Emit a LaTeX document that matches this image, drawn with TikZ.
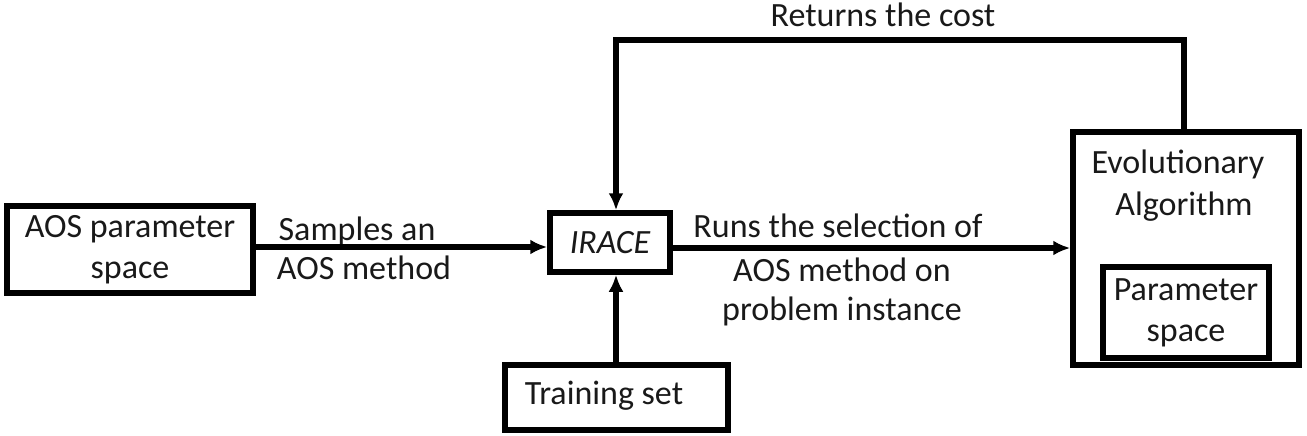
\documentclass[tikz,border=0pt]{standalone}
\usepackage{fontspec}
\setmainfont{Carlito}
\usetikzlibrary{arrows.meta}
\tikzset{
  box/.style={draw, line width=5.5pt, inner sep=0pt, fill=white},
  txt/.style={font=\fontsize{34}{41}\selectfont, inner sep=0pt, text=black!90},
  conn/.style={line width=5.5pt, -{Latex[length=17pt,width=15pt]}},
}
\begin{document}
\begin{tikzpicture}[x=1pt,y=-1pt]
\useasboundingbox (0,0) rectangle (1307,436);
% boxes
\node[box, minimum width=246pt, minimum height=87pt, align=center, txt] (aos) at (130,249.5) {AOS parameter\\space};
\node[box, minimum width=120pt, minimum height=59pt, txt] (irace) at (610,242.5) {\itshape IRACE};
\node[box, minimum width=223pt, minimum height=65pt] (train) at (616.5,397.5) {};
\node[txt, anchor=base] (traint) at (604,404) {Training set};
\node[box, minimum width=226pt, minimum height=233pt] (ea) at (1186,248.5) {};
\node[txt, anchor=base] (eat1) at (1178,173) {Evolutionary};
\node[txt, anchor=base] (eat2) at (1184,215) {Algorithm};
\node[box, minimum width=166pt, minimum height=91pt, txt, align=center] (ps) at (1186,312.5) {Parameter\\space};
% connector labels
\node[txt, anchor=base] (l1) at (357,240) {Samples an};
\node[txt, anchor=base] (l2) at (364,279) {AOS method};
\node[txt, anchor=base] (r1) at (838,237) {Runs the selection of};
\node[txt, anchor=base] (r2) at (842,281) {AOS method on};
\node[txt, anchor=base] (r3) at (842,320) {problem instance};
\node[txt, anchor=base] (rc) at (883,27) {Returns the cost};
% connectors
\draw[conn] (aos.east |- 0,247) -- (irace.west |- 0,247);
\draw[conn] (irace.east |- 0,248) -- (ea.west |- 0,248);
\draw[conn] (train.north -| 616,0) -- (irace.south -| 616,0);
\coordinate (c1) at (1184,40);
\coordinate (c2) at (616,40);
\draw[conn] (ea.north -| 1184,0) -- (c1) -- (c2) -- (irace.north -| 616,0);
\end{tikzpicture}
\end{document}
